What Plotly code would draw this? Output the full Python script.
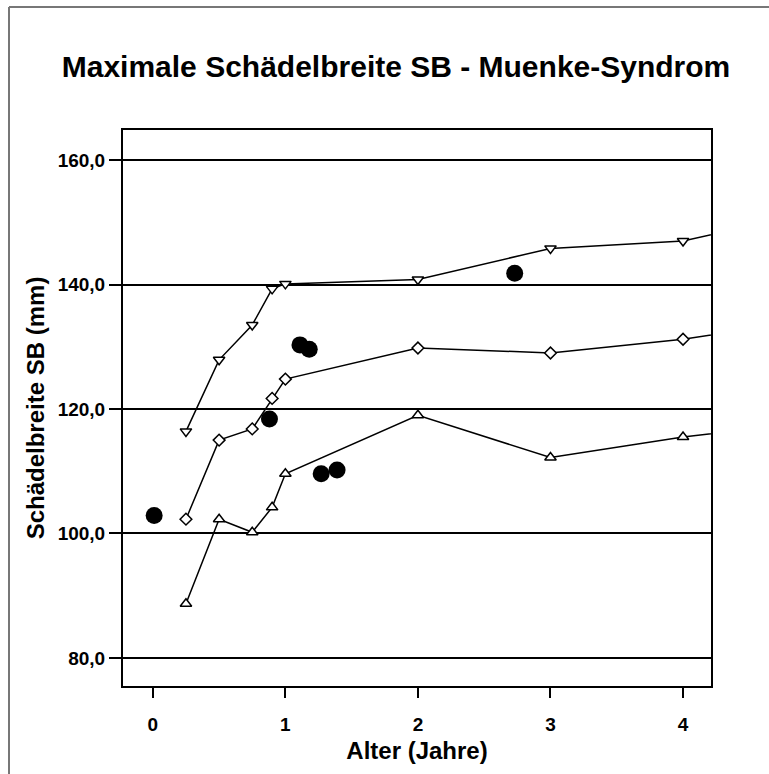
import plotly.graph_objects as go

# Percentile curves (age in years)
age = [0.25, 0.5, 0.75, 0.9, 1.0, 2, 3, 4, 5]
upper = [116.4, 127.9, 133.5, 139.3, 140.1, 140.8, 145.8, 147.0, 151.7]
middle = [102.3, 115.0, 116.8, 121.7, 124.8, 129.8, 129.0, 131.2, 134.5]
lower = [88.7, 102.3, 100.2, 104.2, 109.6, 119.0, 112.2, 115.5, 118.0]

# Patient measurements
pat_age = [0.01, 0.88, 1.11, 1.18, 1.27, 1.39, 2.73]
pat_sb = [102.9, 118.4, 130.3, 129.6, 109.6, 110.2, 141.8]

y_ticks = [80, 100, 120, 140, 160]
y_ticktext = ["80,0", "100,0", "120,0", "140,0", "160,0"]
x_ticks = [0, 1, 2, 3, 4]
x_ticktext = ["0", "1", "2", "3", "4"]

FONT = "Liberation Sans, Arial, sans-serif"

fig = go.Figure()
for vals, sym in [(upper, "triangle-down"), (middle, "diamond"), (lower, "triangle-up")]:
    fig.add_trace(go.Scatter(
        x=age, y=vals, mode="lines+markers",
        line=dict(color="black", width=1.5),
        marker=dict(symbol=sym, size=10 if sym != "diamond" else 9,
                    color="white", line=dict(color="black", width=1.5)),
        showlegend=False, hoverinfo="skip"))

fig.add_trace(go.Scatter(
    x=pat_age, y=pat_sb, mode="markers",
    marker=dict(symbol="circle", size=17, color="black"),
    showlegend=False))

W, H = 769, 774
L, R, T, B = 123, 58, 130, 88
pw, ph = W - L - R, H - T - B

def px(x):
    return (x - L) / pw

def py(y):
    return (H - B - y) / ph

fig.update_layout(
    width=W, height=H,
    margin=dict(l=L, r=R, t=T, b=B),
    paper_bgcolor="white", plot_bgcolor="white",
    font=dict(family=FONT, color="black", size=19),
    title=dict(text="<b>Maximale Schädelbreite SB - Muenke-Syndrom</b>",
               font=dict(family=FONT, size=30, color="black"),
               xref="container", x=396 / W, xanchor="center",
               yref="container", y=1 - 66 / H, yanchor="middle"),
    shapes=[
        dict(type="line", xref="paper", yref="paper",
             x0=px(9), x1=px(800), y0=py(7), y1=py(7),
             line=dict(color="#777777", width=2)),
        dict(type="line", xref="paper", yref="paper",
             x0=px(9), x1=px(9), y0=py(7), y1=py(800),
             line=dict(color="#777777", width=2)),
    ],
)

fig.update_xaxes(
    range=[-0.225, 4.211], tickvals=x_ticks, ticktext=x_ticktext,
    showgrid=False, zeroline=False, automargin=False,
    showline=True, mirror=True, linecolor="black", linewidth=2,
    ticks="outside", ticklen=10, tickwidth=2, tickcolor="black",
    ticklabelstandoff=10,
    tickfont=dict(family=FONT, size=19, color="black", weight="bold"),
    title=dict(text="<b>Alter (Jahre)</b>", font=dict(family=FONT, size=24), standoff=8),
)
fig.update_yaxes(
    range=[75.5, 164.82], tickvals=y_ticks, ticktext=y_ticktext,
    showgrid=True, gridcolor="black", gridwidth=2, zeroline=False, automargin=False,
    showline=True, mirror=True, linecolor="black", linewidth=2,
    ticks="outside", ticklen=12, tickwidth=2, tickcolor="black",
    tickfont=dict(family=FONT, size=19, color="black", weight="bold"),
    title=dict(text="<b>Schädelbreite SB (mm)</b>", font=dict(family=FONT, size=24), standoff=6),
)

fig.write_html(
    "out.html",
    config={"displayModeBar": False},
    post_script="document.body.style.margin='0';document.documentElement.style.overflow='hidden';document.body.style.overflow='hidden';",
)
